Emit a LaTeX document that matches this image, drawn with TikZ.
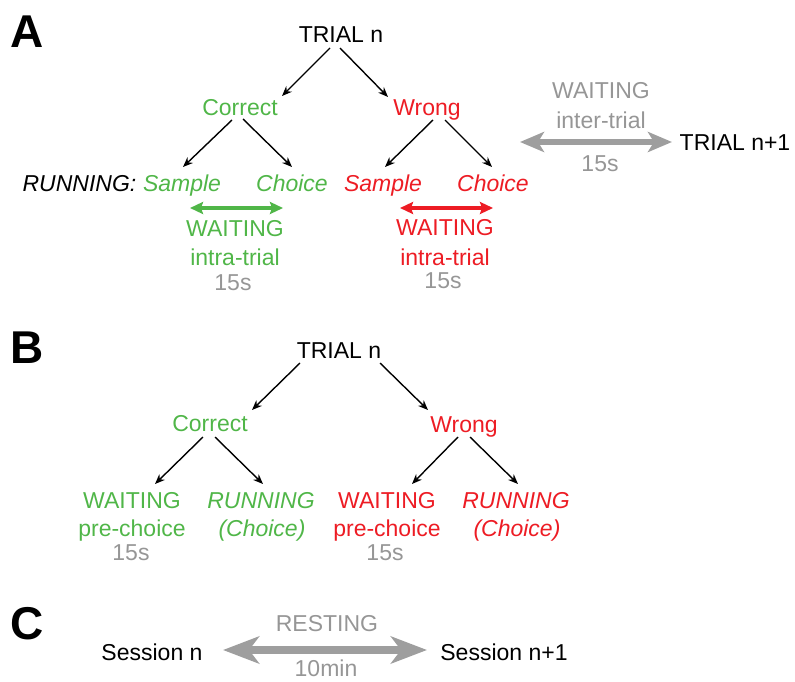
\documentclass[tikz,border=0pt]{standalone}
\usepackage{fontspec}
\setmainfont{Liberation Sans}
\usetikzlibrary{arrows.meta}
\definecolor{cgreen}{RGB}{80,182,72}
\definecolor{cred}{RGB}{237,28,36}
\definecolor{cgray}{RGB}{150,150,150}
\definecolor{agray}{RGB}{158,158,158}
\tikzset{
  txt/.style={inner sep=0pt, text height=16.5pt, text depth=0pt, font=\fontsize{23}{27}\selectfont},
  itxt/.style={txt, font=\fontsize{23}{27}\selectfont\itshape},
  panel/.style={inner sep=0pt, text height=33pt, text depth=0pt, font=\fontsize{46}{50}\selectfont\bfseries},
  arr/.style={line width=1.4pt, -{Stealth[length=10pt,width=8pt]}},
  dblarr/.style={line width=3.5pt, {Stealth[length=13pt,width=12pt,inset=2pt]}-{Stealth[length=13pt,width=12pt,inset=2pt]}},
  bigarr/.style={agray, line width=5.5pt, {Stealth[length=24pt,width=20pt,inset=6pt]}-{Stealth[length=24pt,width=20pt,inset=6pt]}},
  hugearr/.style={agray, line width=8pt, {Stealth[length=36pt,width=27pt,inset=10pt]}-{Stealth[length=36pt,width=27pt,inset=10pt]}}
}
\begin{document}
\begin{tikzpicture}[x=1pt,y=-1pt]
\useasboundingbox (0,0) rectangle (795,682);
% ---------------- Panel A
\node[panel] (labA) at (27,31.5) {A};
\node[txt] (trialA) at (341,34) {TRIAL n};
\node[txt, cgreen] (corA) at (240,107) {Correct};
\node[txt, cred] (wrA) at (427,107) {Wrong};
\node[itxt] (runA) at (79.5,183) {RUNNING:};
\node[itxt, cgreen] (samGA) at (182,183) {Sample};
\node[itxt, cgreen] (choGA) at (292,183) {Choice};
\node[itxt, cred] (samRA) at (383,183) {Sample};
\node[itxt, cred] (choRA) at (493,183) {Choice};
\node[txt, cgreen] (waitGA) at (235,228) {WAITING};
\node[txt, cgreen] (intraGA) at (235,257) {intra-trial};
\node[txt, cgray] (sGA) at (233,282) {15s};
\node[txt, cred] (waitRA) at (445,227) {WAITING};
\node[txt, cred] (intraRA) at (445,257) {intra-trial};
\node[txt, cgray] (sRA) at (443,280) {15s};
\node[txt, cgray] (waitIA) at (601,90) {WAITING};
\node[txt, cgray] (interIA) at (601,120) {inter-trial};
\node[txt, cgray] (sIA) at (600,163) {15s};
\node[txt] (trialN1) at (735,142) {TRIAL n+1};
\coordinate (gL) at (190,208);
\coordinate (gR) at (283,208);
\coordinate (rL) at (400,208);
\coordinate (rR) at (493,208);
\coordinate (iL) at (520,142);
\coordinate (iR) at (672,142);

\draw[arr] ([shift={(-11,14)}]trialA.center) -- ([shift={(42,-11)}]corA.center);
\draw[arr] ([shift={(-1,14)}]trialA.center) -- ([shift={(-39,-10)}]wrA.center);
\draw[arr] ([shift={(-8,13)}]corA.center) -- ([shift={(1,-16)}]samGA.center);
\draw[arr] ([shift={(3,12)}]corA.center) -- ([shift={(0,-16)}]choGA.center);
\draw[arr] ([shift={(6,13)}]wrA.center) -- ([shift={(2,-16)}]samRA.center);
\draw[arr] ([shift={(18,13)}]wrA.center) -- ([shift={(-1,-16)}]choRA.center);
\draw[dblarr, cgreen] (gL) -- (gR);
\draw[dblarr, cred] (rL) -- (rR);
\draw[bigarr] (iL) -- (iR);

% ---------------- Panel B
\node[panel] (labB) at (27,347) {B};
\node[txt] (trialB) at (339,350) {TRIAL n};
\node[txt, cgreen] (corB) at (210,423) {Correct};
\node[txt, cred] (wrB) at (464,424) {Wrong};
\node[txt, cgreen] (waitGB) at (132,500) {WAITING};
\node[txt, cgreen] (preGB) at (132,528) {pre-choice};
\node[txt, cgray] (sGB) at (131,552) {15s};
\node[itxt, cgreen] (runGB) at (261,500) {RUNNING};
\node[itxt, cgreen] (choGB) at (262,528) {(Choice)};
\node[txt, cred] (waitRB) at (387,500) {WAITING};
\node[txt, cred] (preRB) at (387,528) {pre-choice};
\node[txt, cgray] (sRB) at (385,552) {15s};
\node[itxt, cred] (runRB) at (516,500) {RUNNING};
\node[itxt, cred] (choRB) at (517,528) {(Choice)};

\draw[arr] ([shift={(-39,13)}]trialB.center) -- ([shift={(42,-13)}]corB.center);
\draw[arr] ([shift={(41,13)}]trialB.center) -- ([shift={(-36,-14)}]wrB.center);
\draw[arr] ([shift={(-7,14)}]corB.center) -- ([shift={(23,-16)}]waitGB.center);
\draw[arr] ([shift={(5,14)}]corB.center) -- ([shift={(2,-16)}]runGB.center);
\draw[arr] ([shift={(-6,13)}]wrB.center) -- ([shift={(25,-16)}]waitRB.center);
\draw[arr] ([shift={(6,13)}]wrB.center) -- ([shift={(2,-16)}]runRB.center);

% ---------------- Panel C
\node[panel] (labC) at (27,623) {C};
\node[txt] (sessN) at (152,652) {Session n};
\node[txt] (sessN1) at (504,652) {Session n+1};
\node[txt, cgray] (rest) at (327,623) {RESTING};
\node[txt, cgray] (tenmin) at (326,668) {10min};
\coordinate (cL) at (223,650);
\coordinate (cR) at (427,650);
\draw[hugearr] (cL) -- (cR);
\end{tikzpicture}
\end{document}
